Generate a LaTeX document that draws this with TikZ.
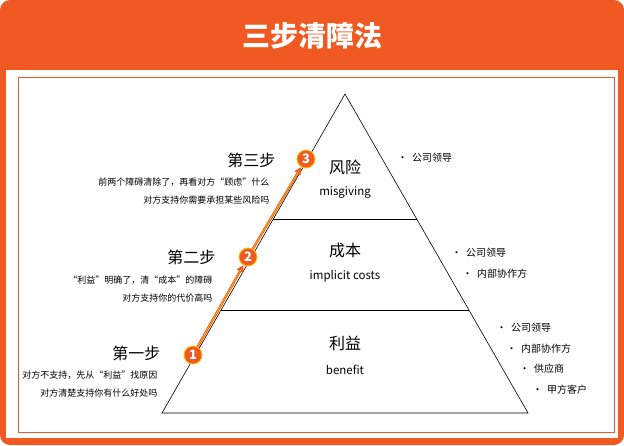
\documentclass[tikz,border=0pt]{standalone}
\usepackage{fontspec}
\setmainfont{Noto Sans CJK SC}
\usetikzlibrary{calc,arrows.meta}
\definecolor{org}{HTML}{F05A22}
\definecolor{ylw}{HTML}{FFC000}
\begin{document}
\begin{tikzpicture}[x=1pt,y=-1pt,
  stepttl/.style={anchor=east,font=\fontsize{16}{18}\selectfont},
  desc/.style={anchor=east,font=\fontsize{9}{11}\selectfont,align=right},
  lab/.style={font=\fontsize{16}{18}\selectfont},
  sub/.style={font=\fontsize{11.5}{13}\selectfont},
  bul/.style={anchor=west,font=\fontsize{10}{12}\selectfont},
  num/.style={circle,fill=org,draw=ylw,line width=0.8pt,inner sep=0pt,minimum size=18pt,text=white,font=\bfseries\fontsize{13}{14}\selectfont},
  arr/.style={draw=org,line width=2.4pt,-{Triangle[length=7pt,width=7pt]}}]
\useasboundingbox (0,0) rectangle (624,445);
\fill[org,rounded corners=10pt] (0,0) rectangle (624,445);
\fill[white] (6,70) rectangle (618,438);
\draw[org,line width=0.8pt] (18,77) rectangle (614,432);
\node[text=white,font=\bfseries\fontsize{28}{32}\selectfont] (title) at (312,36) {三步清障法};
% pyramid
\coordinate (ap) at (345,94);
\coordinate (bl) at (162,413);
\coordinate (br) at (528,413);
\draw[line width=0.6pt] (bl) -- (ap) -- (br) -- cycle;
\draw[line width=0.6pt] ($(ap)!0.392!(bl)$) -- ($(ap)!0.392!(br)$);
\draw[line width=0.6pt] ($(ap)!0.677!(bl)$) -- ($(ap)!0.677!(br)$);
\node[lab] (l3) at (345,167) {风险};
\node[sub] (s3) at (345,192) {misgiving};
\node[lab] (l2) at (345,250) {成本};
\node[sub] (s2) at (345,276) {implicit costs};
\node[lab] (l1) at (345,343) {利益};
\node[sub] (s1) at (345,370) {benefit};
% circles
\node[num] (c3) at (306,159) {3};
\node[num] (c2) at (248,257) {2};
\node[num] (c1) at (193,355) {1};
\draw[arr] (c1) -- (c2);
\draw[arr] (c2) -- (c3);
\draw[ylw,line width=0.6pt,shorten >=5pt] (c1) -- (c2);
\draw[ylw,line width=0.6pt,shorten >=5pt] (c2) -- (c3);
% steps
\node[stepttl] (t3) at (279,160) {第三步};
\node[desc] (d3a) at (273,182) {前两个障碍清除了，再看对方“顾虑”什么};
\node[desc] (d3b) at (273,200) {对方支持你需要承担某些风险吗};
\node[stepttl] (t2) at (219,257) {第二步};
\node[desc] (d2a) at (216,280) {“利益”明确了，清“成本”的障碍};
\node[desc] (d2b) at (216,298) {对方支持你的代价高吗};
\node[stepttl] (t1) at (164,353) {第一步};
\node[desc] (d1a) at (161,375) {对方不支持，先从“利益”找原因};
\node[desc] (d1b) at (161,393) {对方清楚支持你有什么好处吗};
% bullets
\node[bul] (b31) at (394,158) {•\ \ 公司领导};
\node[bul] (b21) at (448,253) {•\ \ 公司领导};
\node[bul] (b22) at (459,274) {•\ \ 内部协作方};
\node[bul] (b11) at (493,328) {•\ \ 公司领导};
\node[bul] (b12) at (503,349) {•\ \ 内部协作方};
\node[bul] (b13) at (516,369) {•\ \ 供应商};
\node[bul] (b14) at (529,390) {•\ \ 甲方客户};
\end{tikzpicture}
\end{document}
